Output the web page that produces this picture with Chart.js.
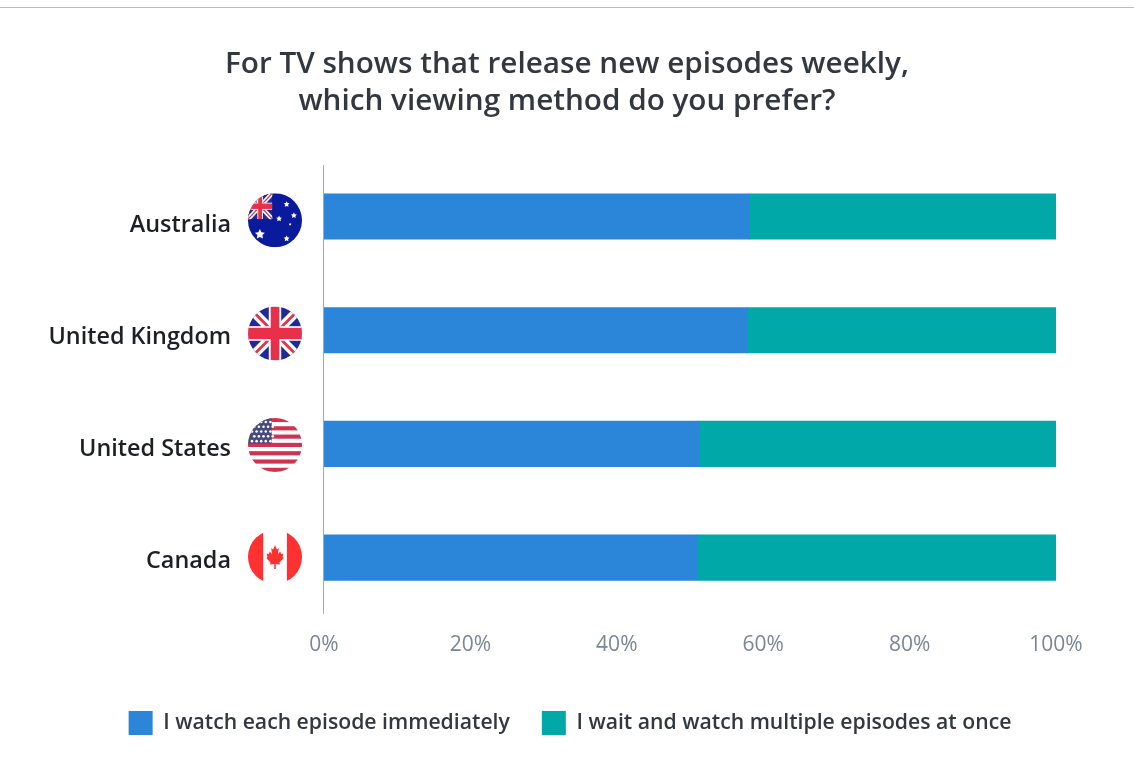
<!DOCTYPE html>
<html>
<head>
<meta charset="utf-8">
<title>Weekly episode viewing preference</title>
<script src="https://cdn.jsdelivr.net/npm/chart.js@4/dist/chart.umd.min.js"></script>
<style>
  html, body { margin: 0; padding: 0; background: #fff; }
  #wrap { position: relative; width: 1134px; height: 775px; overflow: hidden; }
  #rule { position: absolute; left: 0; right: 0; top: 7px; height: 1px; background: #b9bcc0; }
  canvas { display: block; }
</style>
</head>
<body>
<div id="wrap">
  <div id="rule"></div>
  <canvas id="chart" width="1134" height="775"></canvas>
</div>
<script>
const countries = ['Australia', 'United Kingdom', 'United States', 'Canada'];
const watchImmediately = [58.1, 57.8, 51.2, 51.0];
const waitAndBinge = [41.9, 42.2, 48.8, 49.0];
const seriesNames = ['I watch each episode immediately', 'I wait and watch multiple episodes at once'];
const titleLines = ['For TV shows that release new episodes weekly,', 'which viewing method do you prefer?'];
const FONT = '"Open Sans", sans-serif';

// Small flag painters; each one draws inside a circle clip of radius r around (0,0).
const flagPainters = {
  Australia(c, r) {
    c.fillStyle = '#0a1a9c'; c.fillRect(-r, -r, 2 * r, 2 * r);
    unionJack(c, -r, -r, r * 0.9, r * 0.96);
    c.fillStyle = '#fff';
    [[-0.56, 0.52, 0.17], [0.43, -0.59, 0.1], [0.15, -0.06, 0.1], [0.7, -0.18, 0.1], [0.43, 0.68, 0.1], [0.56, 0.15, 0.05]]
      .forEach(([x, y, s]) => star(c, x * r, y * r, s * r * 1.15));
  },
  'United Kingdom'(c, r) { unionJack(c, -r, -r, 2 * r, 2 * r); },
  'United States'(c, r) {
    c.fillStyle = '#fff'; c.fillRect(-r, -r, 2 * r, 2 * r);
    c.fillStyle = '#cf3350';
    const h = 2 * r / 13;
    for (let i = 0; i < 13; i += 2) c.fillRect(-r, -r + i * h, 2 * r, h);
    c.fillStyle = '#464a80'; c.fillRect(-r, -r, r * 0.88, r * 0.95);
    c.fillStyle = '#fff';
    for (let row = 0; row < 5; row++) {
      for (let col = 0; col < 5; col++) {
        c.beginPath();
        c.arc(-r + 4 + col * 4.6 + (row % 2) * 2.3, -r + 4 + row * 4.8, 1.3, 0, Math.PI * 2);
        c.fill();
      }
    }
  },
  Canada(c, r) {
    c.fillStyle = '#fff'; c.fillRect(-r, -r, 2 * r, 2 * r);
    c.fillStyle = '#ff3131';
    c.fillRect(-r, -r, r * 0.56, 2 * r);
    c.fillRect(r * 0.44, -r, r * 0.56, 2 * r);
    const s = r / 27, sx = s * 0.76;
    const leaf = [[0, -12], [2.5, -7.5], [5, -9], [4, -3], [7, -5.5], [8, -3], [11, -3.5], [10, 0], [11.5, 1], [6, 5.5], [6.5, 7.5], [1, 7], [1, 12],
      [-1, 12], [-1, 7], [-6.5, 7.5], [-6, 5.5], [-11.5, 1], [-10, 0], [-11, -3.5], [-8, -3], [-7, -5.5], [-4, -3], [-5, -9], [-2.5, -7.5]];
    c.beginPath();
    leaf.forEach(([x, y], i) => i ? c.lineTo(x * sx, y * s) : c.moveTo(x * sx, y * s));
    c.closePath(); c.fill();
  }
};

function star(c, x, y, s) {
  c.beginPath();
  for (let i = 0; i < 10; i++) {
    const a = -Math.PI / 2 + i * Math.PI / 5, d = i % 2 ? s * 0.5 : s;
    c.lineTo(x + Math.cos(a) * d, y + Math.sin(a) * d);
  }
  c.closePath(); c.fill();
}

function unionJack(c, x, y, w, h) {
  c.save();
  c.beginPath(); c.rect(x, y, w, h); c.clip();
  c.fillStyle = '#1f2a96'; c.fillRect(x, y, w, h);
  c.lineCap = 'butt';
  c.strokeStyle = '#fff'; c.lineWidth = h * 0.17;
  c.beginPath(); c.moveTo(x, y); c.lineTo(x + w, y + h); c.moveTo(x + w, y); c.lineTo(x, y + h); c.stroke();
  c.strokeStyle = '#e8304a'; c.lineWidth = h * 0.05;
  c.beginPath(); c.moveTo(x, y); c.lineTo(x + w, y + h); c.moveTo(x + w, y); c.lineTo(x, y + h); c.stroke();
  c.fillStyle = '#fff';
  c.fillRect(x + w * 0.385, y, w * 0.23, h); c.fillRect(x, y + h * 0.365, w, h * 0.27);
  c.fillStyle = '#e8304a';
  c.fillRect(x + w * 0.42, y, w * 0.16, h); c.fillRect(x, y + h * 0.395, w, h * 0.21);
  c.restore();
}

const flagOffsets = [3.75, 3.25, 1, -0.75];
// Country labels are spaced a touch tighter than the bars, so each gets its own vertical nudge.
const labelNudges = [8.4, 7.4, 5.4, 3.4];

const decorations = {
  id: 'decorations',
  afterLayout(chart) {
    // Title spans the whole page; the legend row sits a little right of centre.
    chart.titleBlock.left = 0;
    chart.titleBlock.right = 1134;
    chart.legend.left = 3;
    chart.legend.right = 1137;
  },
  afterUpdate(chart) {
    chart.scales.y.getLabelItems().forEach((item, i) => {
      item.options.translation[1] += labelNudges[i];
    });
  },
  afterDraw(chart) {
    const { ctx, scales: { x, y } } = chart;
    ctx.save();
    // Vertical baseline at 0%
    ctx.strokeStyle = '#a8acb2';
    ctx.lineWidth = 1;
    ctx.beginPath();
    ctx.moveTo(Math.round(x.getPixelForValue(0)) + 0.5 - 1, 165);
    ctx.lineTo(Math.round(x.getPixelForValue(0)) + 0.5 - 1, 614);
    ctx.stroke();
    // Round flags beside each country label
    countries.forEach((name, i) => {
      const cy = y.getPixelForValue(i) + flagOffsets[i];
      ctx.save();
      ctx.translate(275, cy);
      ctx.beginPath(); ctx.arc(0, 0, 27, 0, Math.PI * 2); ctx.clip();
      flagPainters[name](ctx, 27);
      ctx.restore();
    });
    ctx.restore();
  }
};

new Chart(document.getElementById('chart'), {
  type: 'bar',
  data: {
    labels: countries,
    datasets: [
      { label: seriesNames[0], data: watchImmediately, backgroundColor: '#2b85d8', barThickness: 45.5 },
      { label: seriesNames[1], data: waitAndBinge, backgroundColor: '#00a9a8', barThickness: 45.5 }
    ]
  },
  options: {
    indexAxis: 'y',
    responsive: false,
    animation: false,
    layout: { padding: { left: 0, right: 78, top: 0, bottom: 30 } },
    scales: {
      x: {
        stacked: true, min: 0, max: 100,
        border: { display: false },
        grid: { display: false, drawTicks: false },
        ticks: { stepSize: 20, maxRotation: 0, padding: 17.5, color: '#7d8695', font: { family: FONT, size: 21 }, callback: v => v + '%' },
        afterFit(s) { s.height = 64.5; }
      },
      y: {
        stacked: true,
        border: { display: false },
        grid: { display: false, drawTicks: false },
        ticks: { padding: 93, color: '#1c2026', font: { family: FONT, size: 23.4, weight: '600' } },
        afterFit(s) { s.width = 324; }
      }
    },
    plugins: {
      tooltip: { enabled: false },
      title: {
        display: true, text: titleLines, color: '#33383f',
        font: { family: FONT, size: 29.7, weight: '600', lineHeight: 1.24 },
        padding: { top: 46.5, bottom: 39.5 }
      },
      legend: {
        position: 'bottom',
        labels: { boxWidth: 24, boxHeight: 24, padding: 32, color: '#33383f', font: { family: FONT, size: 21.2, weight: '600' } }
      }
    }
  },
  plugins: [decorations]
});
</script>
</body>
</html>
